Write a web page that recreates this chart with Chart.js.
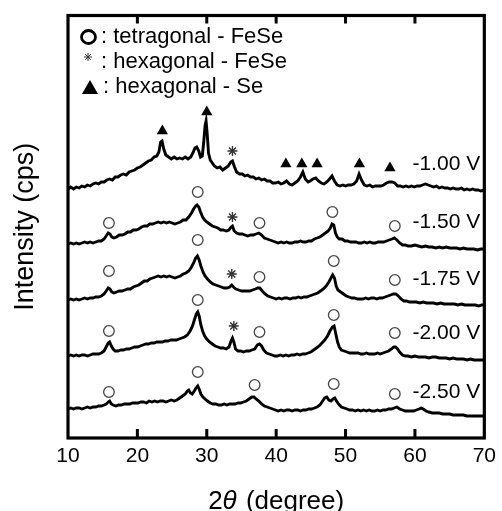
<!DOCTYPE html>
<html>
<head>
<meta charset="utf-8">
<script src="https://cdn.jsdelivr.net/npm/chart.js@4.4.1/dist/chart.umd.min.js"></script>
<style>
  html, body { margin: 0; padding: 0; background: #fff; }
  canvas { display: block; }
</style>
</head>
<body>
<canvas id="xrdChart" width="502" height="511"></canvas>
<script>
// XRD patterns, 2theta (degree) vs intensity (offset, arbitrary cps units)
const t100 = [[10,249],[10.4,251],[10.8,249],[11.2,251],[11.6,250],[12,252],[12.4,251],[12.8,253],[13.2,252],[13.6,254],[14,255],[14.4,254],[14.8,256],[15.2,256],[15.6,258],[16,259],[16.4,258],[16.8,261],[17.2,261],[17.6,263],[18,264],[18.4,263],[18.8,266],[19.2,267],[19.6,268],[20,270],[20.4,271],[20.8,273],[21.2,275],[21.6,277],[22,278],[22.4,281],[22.8,282],[23.1,286],[23.35,296],[23.55,297],[23.8,289],[24.1,283],[24.5,281],[24.9,279],[25.3,281],[25.7,279],[26.1,280],[26.5,279],[26.9,281],[27.3,279],[27.7,281],[28,285],[28.3,290],[28.55,291],[28.85,287],[29.1,281],[29.35,282],[29.55,295],[29.75,312],[29.9,317],[30.05,305],[30.25,285],[30.5,278],[30.8,275],[31.1,272],[31.5,270],[31.9,271],[32.3,268],[32.7,270],[33.1,272],[33.45,276],[33.7,277],[34,271],[34.3,266],[34.7,264],[35.1,264],[35.5,262],[35.9,263],[36.3,261],[36.7,261],[37.1,259],[37.5,260],[37.9,258],[38.3,259],[38.7,257],[39.1,257],[39.5,255],[39.9,255],[40.3,256],[40.7,254],[41.1,255],[41.5,257],[41.9,254],[42.3,253],[42.7,255],[43.1,257],[43.5,261],[43.85,266],[44.2,259],[44.6,256],[44.9,257],[45.3,259],[45.7,260],[46.1,257],[46.5,255],[46.9,254],[47.3,256],[47.7,259],[48.05,262],[48.4,257],[48.8,253],[49.2,252],[49.6,253],[50,252],[50.4,253],[50.8,253],[51.2,254],[51.6,257],[51.95,264],[52.3,258],[52.7,253],[53.1,252],[53.5,253],[53.9,251],[54.3,252],[54.7,252],[55.1,252],[55.5,253],[55.9,255],[56.3,256],[56.7,256],[57.1,255],[57.5,252],[57.9,252],[58.3,251],[58.7,252],[59.1,251],[59.5,252],[59.9,251],[60.3,252],[60.7,252],[61.1,253],[61.5,254],[61.9,253],[62.3,252],[62.7,251],[63.1,252],[63.5,250],[63.9,251],[64.3,250],[64.7,250],[65.1,249],[65.5,250],[65.9,249],[66.3,249],[66.7,250],[67.1,248],[67.5,249],[67.9,248],[68.3,249],[68.7,248],[69.1,248],[69.5,247],[70,248]];

const t150 = [[10,194],[10.4,195],[10.8,194],[11.2,195],[11.6,194],[12,195],[12.4,196],[12.8,195],[13.2,196],[13.6,195],[14,196],[14.4,197],[14.8,197],[15.2,199],[15.5,202],[15.8,205],[16.05,204],[16.3,201],[16.6,200],[17,201],[17.4,203],[17.8,203],[18.2,204],[18.6,206],[19,206],[19.4,208],[19.8,208],[20.2,209],[20.6,211],[21,212],[21.4,212],[21.8,214],[22.2,214],[22.6,215],[23,216],[23.4,215],[23.8,216],[24.2,215],[24.6,216],[25,215],[25.4,214],[25.8,215],[26.2,216],[26.6,218],[27,218],[27.4,221],[27.8,225],[28.1,229],[28.4,232],[28.6,233],[28.85,231],[29.1,226],[29.4,221],[29.7,218],[30,216],[30.4,214],[30.8,212],[31.2,211],[31.6,210],[32,208],[32.4,208],[32.8,207],[33.2,208],[33.5,211],[33.7,212],[33.95,207],[34.3,205],[34.7,204],[35.1,204],[35.5,203],[35.9,202],[36.3,203],[36.7,203],[37.1,204],[37.5,205],[37.9,203],[38.3,200],[38.7,199],[39.1,198],[39.5,197],[39.9,196],[40.3,195],[40.7,196],[41.1,195],[41.5,196],[41.9,195],[42.3,195],[42.7,196],[43.1,196],[43.5,197],[43.9,196],[44.3,196],[44.7,197],[45.1,197],[45.5,199],[45.9,200],[46.3,201],[46.7,203],[47.1,205],[47.5,207],[47.8,210],[48.05,214],[48.3,213],[48.55,205],[48.8,201],[49.1,199],[49.5,199],[49.9,197],[50.3,197],[50.7,196],[51.1,196],[51.5,196],[51.9,195],[52.3,195],[52.7,196],[53.1,195],[53.5,196],[53.9,195],[54.3,195],[54.7,196],[55.1,196],[55.5,196],[55.9,197],[56.3,198],[56.7,199],[57.05,200],[57.4,198],[57.8,195],[58.2,193],[58.6,193],[59,192],[59.5,192],[60,193],[60.5,192],[61,191],[61.5,192],[62,191],[62.5,191],[63,190],[63.5,191],[64,190],[64.5,191],[65,190],[65.5,190],[66,190],[66.5,189],[67,190],[67.5,189],[68,189],[68.5,189],[69,188],[69.5,189],[70,189]];

const t175 = [[10,138],[10.4,139],[10.8,138],[11.2,139],[11.6,138],[12,139],[12.4,140],[12.8,139],[13.2,140],[13.6,140],[14,141],[14.4,141],[14.8,142],[15.2,144],[15.5,147],[15.8,150],[16.05,149],[16.3,146],[16.6,145],[17,146],[17.4,147],[17.8,147],[18.2,148],[18.6,149],[19,149],[19.4,151],[19.8,152],[20.2,153],[20.6,155],[21,157],[21.4,157],[21.8,159],[22.2,160],[22.6,161],[23,162],[23.4,161],[23.8,162],[24.2,161],[24.6,162],[25,161],[25.4,160],[25.8,161],[26.2,162],[26.6,164],[27,165],[27.4,167],[27.8,171],[28.1,175],[28.4,180],[28.65,182],[28.9,178],[29.15,172],[29.45,166],[29.75,162],[30.1,159],[30.5,156],[30.9,154],[31.3,153],[31.7,152],[32.1,151],[32.5,150],[32.9,150],[33.3,151],[33.6,153],[33.85,151],[34.2,149],[34.6,148],[35,147],[35.4,147],[35.8,147],[36.2,147],[36.6,148],[37,149],[37.35,150],[37.65,150],[38,147],[38.4,144],[38.8,142],[39.2,141],[39.6,140],[40,139],[40.4,140],[40.8,139],[41.2,140],[41.6,140],[42,139],[42.4,140],[42.8,140],[43.2,141],[43.6,140],[44,141],[44.4,141],[44.8,142],[45.2,143],[45.6,144],[46,145],[46.4,147],[46.8,149],[47.2,152],[47.6,156],[47.9,160],[48.15,163],[48.4,160],[48.65,152],[48.9,148],[49.3,146],[49.7,144],[50.1,142],[50.5,141],[50.9,140],[51.3,140],[51.7,139],[52.1,139],[52.5,139],[52.9,140],[53.3,139],[53.7,140],[54.1,140],[54.5,139],[54.9,140],[55.3,140],[55.7,141],[56.1,142],[56.5,143],[56.9,144],[57.25,144],[57.6,142],[58,139],[58.4,137],[58.8,137],[59.2,136],[59.7,136],[60.2,136],[60.7,135],[61.2,136],[61.7,135],[62.2,135],[62.7,135],[63.2,134],[63.7,135],[64.2,134],[64.7,134],[65.2,134],[65.7,134],[66.2,133],[66.7,134],[67.2,133],[67.7,133],[68.2,133],[68.7,133],[69.2,132],[69.6,133],[70,133]];

const t200 = [[10,82],[10.4,83],[10.8,82],[11.2,83],[11.6,82],[12,83],[12.4,83],[12.8,82],[13.2,83],[13.6,84],[14,84],[14.4,84],[14.8,85],[15.2,87],[15.5,91],[15.8,95],[16,96],[16.25,92],[16.5,89],[16.8,87],[17.2,87],[17.6,88],[18,88],[18.4,89],[18.8,89],[19.2,90],[19.6,91],[20,91],[20.4,92],[20.8,93],[21.2,94],[21.6,94],[22,95],[22.4,95],[22.8,96],[23.2,96],[23.6,96],[24,97],[24.4,97],[24.8,98],[25.2,98],[25.6,98],[26,99],[26.4,100],[26.8,101],[27.2,103],[27.6,107],[27.95,112],[28.25,119],[28.5,124],[28.7,126],[28.9,122],[29.15,113],[29.4,107],[29.7,102],[30,99],[30.4,96],[30.8,94],[31.2,92],[31.6,91],[32,90],[32.4,90],[32.8,89],[33.2,91],[33.5,97],[33.7,100],[33.9,96],[34.15,89],[34.5,87],[34.9,87],[35.3,86],[35.7,87],[36.1,87],[36.5,88],[36.9,89],[37.3,93],[37.6,94],[37.9,92],[38.2,88],[38.6,85],[39,84],[39.4,83],[39.8,82],[40.2,82],[40.6,83],[41,82],[41.4,83],[41.8,82],[42.2,83],[42.6,83],[43,84],[43.4,83],[43.8,84],[44.2,84],[44.6,85],[45,86],[45.4,88],[45.8,90],[46.2,92],[46.6,95],[47,98],[47.4,102],[47.75,107],[48.1,111],[48.35,112],[48.6,104],[48.85,96],[49.1,91],[49.4,88],[49.8,87],[50.2,86],[50.6,85],[51,85],[51.4,85],[51.8,85],[52.2,84],[52.6,84],[53,85],[53.4,84],[53.8,84],[54.2,84],[54.6,85],[55,84],[55.4,85],[55.8,86],[56.2,87],[56.6,89],[56.95,91],[57.2,91],[57.5,89],[57.8,86],[58.2,83],[58.6,82],[59,82],[59.5,81],[60,82],[60.5,81],[61,81],[61.5,81],[62,80],[62.5,81],[63,81],[63.5,80],[64,80],[64.5,80],[65,79],[65.5,80],[66,79],[66.5,79],[67,79],[67.5,78],[68,79],[68.5,78],[69,78],[69.5,78],[70,78]];

const t250 = [[10,29],[10.4,30],[10.8,29],[11.2,30],[11.6,30],[12,29],[12.4,30],[12.8,31],[13.2,30],[13.6,31],[14,31],[14.4,32],[14.8,32],[15.2,33],[15.5,34],[15.8,36],[16,37],[16.25,34],[16.5,33],[16.9,32],[17.3,33],[17.7,33],[18.1,34],[18.5,34],[18.9,34],[19.3,35],[19.7,35],[20.1,35],[20.5,36],[20.9,36],[21.3,35],[21.7,37],[22.1,36],[22.5,37],[22.9,36],[23.3,37],[23.7,37],[24.1,36],[24.5,37],[24.9,38],[25.3,37],[25.7,38],[26.1,40],[26.5,42],[26.9,44],[27.2,47],[27.4,48],[27.65,45],[27.9,44],[28.2,47],[28.45,50],[28.7,52],[28.9,49],[29.15,44],[29.45,41],[29.75,39],[30.1,37],[30.5,35],[30.9,34],[31.3,34],[31.7,33],[32.1,33],[32.5,34],[32.9,33],[33.3,34],[33.7,34],[34.1,34],[34.5,35],[34.9,35],[35.3,36],[35.7,37],[36.1,39],[36.5,41],[36.8,41],[37.1,39],[37.5,37],[37.9,34],[38.3,32],[38.7,31],[39.1,30],[39.5,29],[39.9,28],[40.3,27],[40.7,28],[41.1,27],[41.5,28],[41.9,28],[42.3,27],[42.7,28],[43.1,28],[43.5,27],[43.9,28],[44.3,28],[44.7,29],[45.1,29],[45.5,30],[45.9,31],[46.3,33],[46.7,37],[47,40],[47.3,41],[47.6,38],[47.9,37],[48.2,39],[48.45,40],[48.7,37],[49,34],[49.4,31],[49.8,30],[50.2,29],[50.6,28],[51,28],[51.4,27],[51.8,28],[52.2,27],[52.6,28],[53,27],[53.4,28],[53.8,27],[54.2,27],[54.6,28],[55,27],[55.4,28],[55.8,28],[56.2,29],[56.6,29],[57,30],[57.4,31],[57.8,29],[58.2,28],[58.6,27],[59,27],[59.4,27],[59.8,27],[60.2,28],[60.6,29],[60.9,30],[61.2,29],[61.6,27],[62,26],[62.5,25],[63,25],[63.5,25],[64,24],[64.5,24],[65,24],[65.5,23],[66,23],[66.5,23],[67,23],[67.5,22],[68,22],[68.5,22],[69,22],[69.5,22],[70,22]];

// phase markers [2theta, height]
const tetraFeSe = [[15.9,215],[28.7,246],[37.6,215],[48.1,226],[57.1,212],
                   [15.9,167],[28.7,198],[37.6,161],[48.3,177],[57.1,158],
                   [15.9,107],[28.7,138],[37.6,106],[48.3,123],[57.1,105],
                   [15.9,46],[28.7,66],[36.9,53],[48.3,54],[57.1,44]];
const hexFeSe = [[33.7,287],[33.7,221],[33.6,164],[33.9,112]];
const hexSe = [[23.6,307],[30.0,326],[41.4,274],[43.7,274],[45.9,274],[52.0,274],[56.4,270]];

const voltLabels = ["-1.00 V", "-1.50 V", "-1.75 V", "-2.00 V", "-2.50 V"];
const voltLabelY = [274, 216, 159, 105, 46];
const voltLabelX = 69.4;

const xTicks = [10, 20, 30, 40, 50, 60, 70];
const legendItems = [": tetragonal - FeSe", ": hexagonal - FeSe", ": hexagonal - Se"];

const FONT = "'Liberation Sans', Arial, sans-serif";
const toXY = arr => arr.map(p => ({ x: p[0], y: p[1] }));

function traceSet(data) {
  return {
    type: "line",
    data: toXY(data),
    borderColor: "#000",
    borderWidth: 2.9,
    pointRadius: 0,
    tension: 0,
    order: 2
  };
}

const decorPlugin = {
  id: "decor",
  afterDraw(chart) {
    const ctx = chart.ctx;
    const a = chart.chartArea;
    const xs = chart.scales.x;
    const ys = chart.scales.y;
    ctx.save();

    // frame
    ctx.strokeStyle = "#000";
    ctx.lineWidth = 3.2;
    ctx.strokeRect(a.left, a.top, a.right - a.left, a.bottom - a.top);

    // inward ticks top and bottom
    ctx.lineWidth = 3;
    xTicks.slice(1, -1).forEach(v => {
      const px = xs.getPixelForValue(v);
      ctx.beginPath();
      ctx.moveTo(px, a.bottom);
      ctx.lineTo(px, a.bottom - 9);
      ctx.moveTo(px, a.top);
      ctx.lineTo(px, a.top + 8);
      ctx.stroke();
    });

    // voltage labels
    ctx.fillStyle = "#000";
    ctx.font = "21px " + FONT;
    ctx.textAlign = "right";
    ctx.textBaseline = "middle";
    voltLabels.forEach((t, i) => {
      ctx.fillText(t, xs.getPixelForValue(voltLabelX), ys.getPixelForValue(voltLabelY[i]));
    });

    // legend
    const rows = [37, 62, 87];
    ctx.textAlign = "left";
    ctx.font = "22px " + FONT;
    legendItems.forEach((t, i) => ctx.fillText(t, i === 2 ? 103 : 101, rows[i]));
    ctx.lineWidth = 2.8;
    ctx.beginPath();
    ctx.ellipse(88.5, rows[0], 7, 6.5, 0, 0, Math.PI * 2);
    ctx.stroke();
    // small asterisk
    ctx.lineWidth = 1;
    ctx.strokeStyle = "#333";
    const sx = 88, sy = 57, sr = 4;
    ctx.beginPath();
    for (let k = 0; k < 4; k++) {
      const ang = k * Math.PI / 4;
      ctx.moveTo(sx - sr * Math.cos(ang), sy - sr * Math.sin(ang));
      ctx.lineTo(sx + sr * Math.cos(ang), sy + sr * Math.sin(ang));
    }
    ctx.stroke();
    // triangle
    ctx.fillStyle = "#000";
    ctx.beginPath();
    ctx.moveTo(90, rows[2] - 7);
    ctx.lineTo(98, rows[2] + 7);
    ctx.lineTo(82, rows[2] + 7);
    ctx.closePath();
    ctx.fill();

    // x axis title: 2θ (degree)
    const yT = 502;
    const p1 = "2", p2 = "\u03B8", p3 = " (degree)";
    ctx.font = "26px " + FONT;
    const w1 = ctx.measureText(p1).width;
    const w3 = ctx.measureText(p3).width;
    ctx.font = "italic 26px " + FONT;
    const w2 = ctx.measureText(p2).width + 2;
    let x0 = (a.left + a.right) / 2 - (w1 + w2 + w3) / 2;
    ctx.textBaseline = "middle";
    ctx.font = "26px " + FONT;
    ctx.fillText(p1, x0, yT);
    ctx.font = "italic 26px " + FONT;
    ctx.fillText(p2, x0 + w1, yT);
    ctx.font = "26px " + FONT;
    ctx.fillText(p3, x0 + w1 + w2, yT);

    ctx.restore();
  }
};

new Chart(document.getElementById("xrdChart"), {
  type: "line",
  data: {
    datasets: [
      traceSet(t100),
      traceSet(t150),
      traceSet(t175),
      traceSet(t200),
      traceSet(t250),
      {
        type: "scatter",
        label: "tetragonal - FeSe",
        data: toXY(tetraFeSe),
        pointStyle: "circle",
        pointRadius: 5.3,
        pointBorderWidth: 1.3,
        pointBorderColor: "#444",
        pointBackgroundColor: "rgba(0,0,0,0)",
        order: 1
      },
      {
        type: "scatter",
        label: "hexagonal - FeSe",
        data: toXY(hexFeSe),
        pointStyle: "star",
        pointRadius: 5,
        pointBorderWidth: 1.4,
        pointBorderColor: "#333",
        order: 1
      },
      {
        type: "scatter",
        label: "hexagonal - Se",
        data: toXY(hexSe),
        pointStyle: "triangle",
        pointRadius: 6.5,
        pointBorderWidth: 0,
        pointBackgroundColor: "#000",
        order: 1
      }
    ]
  },
  options: {
    responsive: false,
    animation: false,
    layout: { padding: { left: 0, right: 12.5, top: 15.5, bottom: 0 } },
    scales: {
      x: {
        type: "linear",
        min: 10,
        max: 70,
        border: { display: false },
        grid: { display: false, drawTicks: false },
        ticks: {
          stepSize: 10,
          padding: 6,
          color: "#000",
          font: { size: 21, family: FONT }
        },
        afterFit(scale) { scale.height = 73; }
      },
      y: {
        min: 0,
        max: 422.5,
        border: { display: false },
        grid: { display: false, drawTicks: false },
        ticks: { display: false },
        title: {
          display: true,
          text: "Intensity (cps)",
          color: "#000",
          font: { size: 27, family: FONT, lineHeight: 1 },
          padding: { top: 12.5, bottom: 0 }
        },
        afterFit(scale) { scale.width = 68; }
      }
    },
    plugins: {
      legend: { display: false },
      tooltip: { enabled: false }
    }
  },
  plugins: [decorPlugin]
});
</script>
</body>
</html>
